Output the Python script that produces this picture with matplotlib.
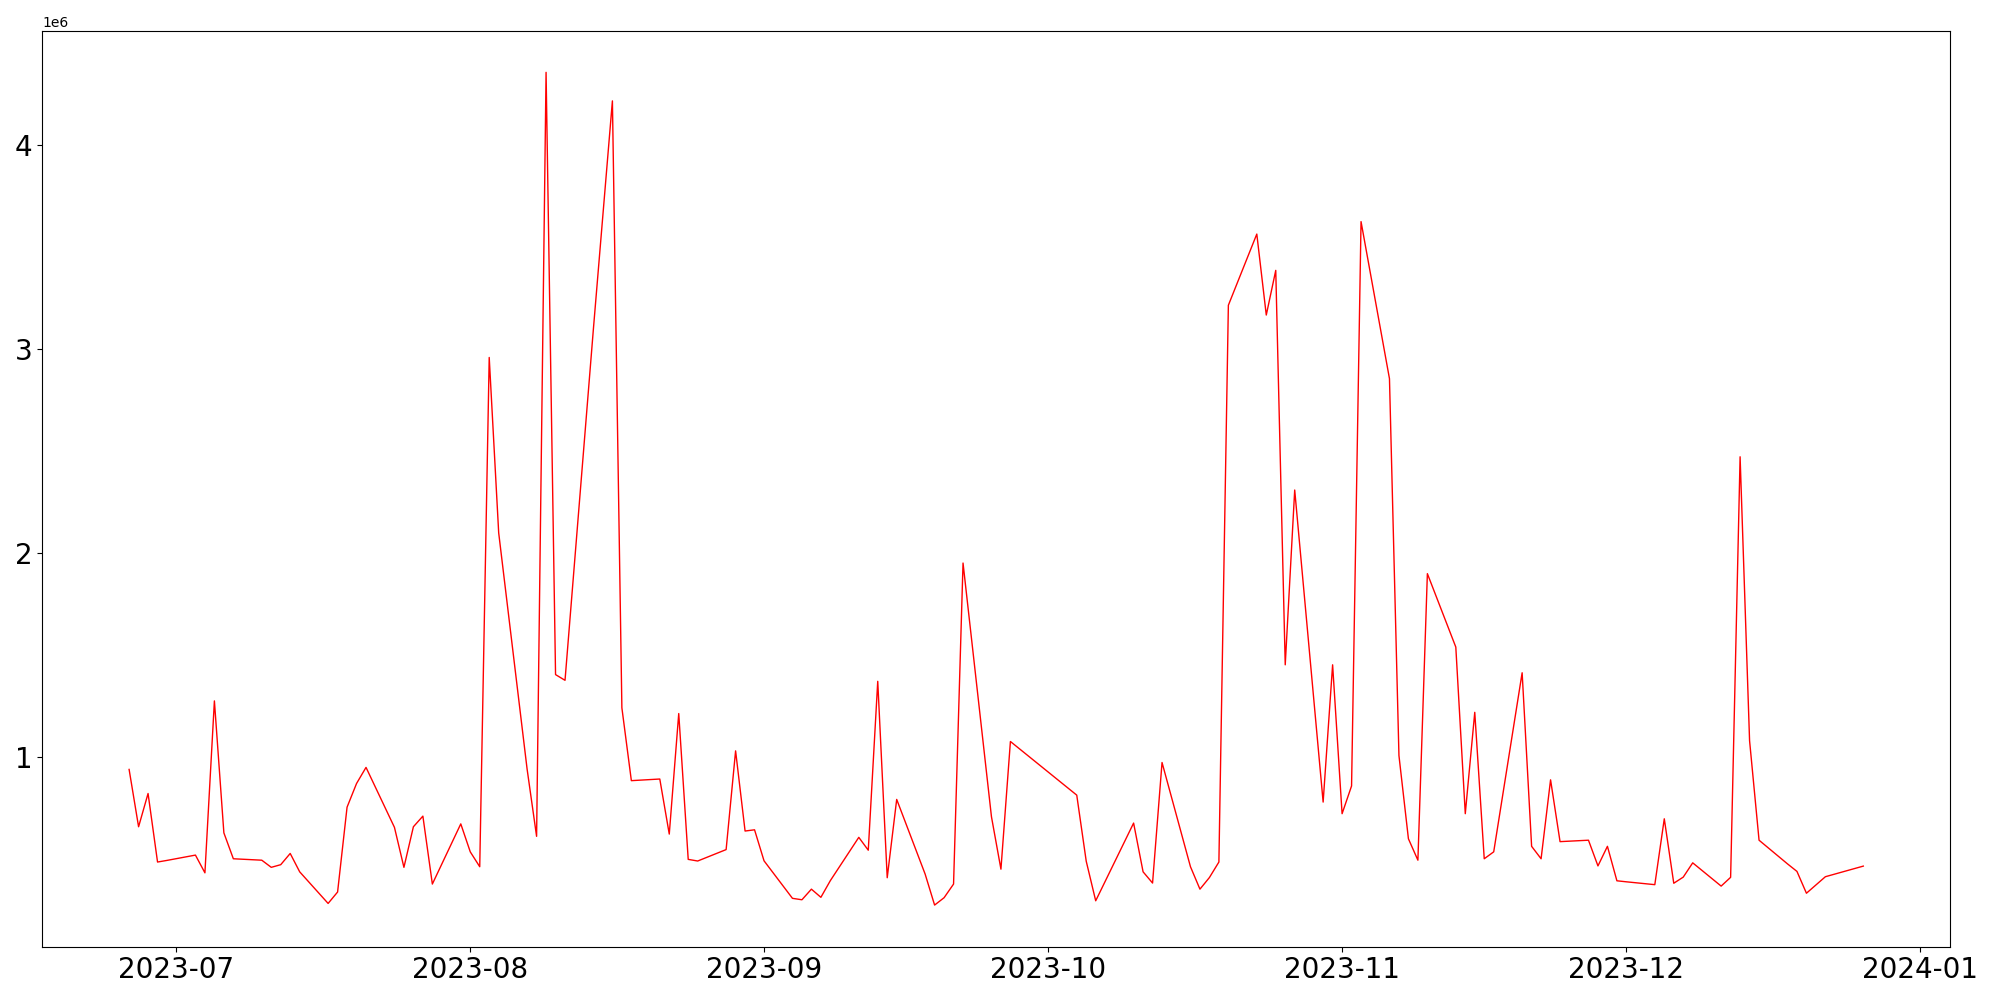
import numpy as np
import pandas as pd
import matplotlib
matplotlib.use("Agg")
import matplotlib.pyplot as plt
from matplotlib.ticker import MultipleLocator

# trading days (gaps = weekends / holidays)
dates = [
    "2023-06-26", "2023-06-27", "2023-06-28", "2023-06-29", "2023-06-30",
    "2023-07-03", "2023-07-04", "2023-07-05", "2023-07-06", "2023-07-07",
    "2023-07-10", "2023-07-11", "2023-07-12", "2023-07-13", "2023-07-14",
    "2023-07-17", "2023-07-18", "2023-07-19", "2023-07-20", "2023-07-21",
    "2023-07-24", "2023-07-25", "2023-07-26", "2023-07-27", "2023-07-28",
    "2023-07-31", "2023-08-01", "2023-08-02", "2023-08-03", "2023-08-04",
    "2023-08-07", "2023-08-08", "2023-08-09", "2023-08-10", "2023-08-11",
    "2023-08-14", "2023-08-16", "2023-08-17", "2023-08-18",
    "2023-08-21", "2023-08-22", "2023-08-23", "2023-08-24", "2023-08-25",
    "2023-08-28", "2023-08-29", "2023-08-30", "2023-08-31", "2023-09-01",
    "2023-09-04", "2023-09-05", "2023-09-06", "2023-09-07", "2023-09-08",
    "2023-09-11", "2023-09-12", "2023-09-13", "2023-09-14", "2023-09-15",
    "2023-09-18", "2023-09-19", "2023-09-20", "2023-09-21", "2023-09-22",
    "2023-09-25", "2023-09-26", "2023-09-27",
    "2023-10-04", "2023-10-05", "2023-10-06",
    "2023-10-10", "2023-10-11", "2023-10-12", "2023-10-13",
    "2023-10-16", "2023-10-17", "2023-10-18", "2023-10-19", "2023-10-20",
    "2023-10-23", "2023-10-24", "2023-10-25", "2023-10-26", "2023-10-27",
    "2023-10-30", "2023-10-31", "2023-11-01", "2023-11-02", "2023-11-03",
    "2023-11-06", "2023-11-07", "2023-11-08", "2023-11-09", "2023-11-10",
    "2023-11-13", "2023-11-14", "2023-11-15", "2023-11-16", "2023-11-17",
    "2023-11-20", "2023-11-21", "2023-11-22", "2023-11-23", "2023-11-24",
    "2023-11-27", "2023-11-28", "2023-11-29", "2023-11-30", "2023-12-01",
    "2023-12-04", "2023-12-05", "2023-12-06", "2023-12-07", "2023-12-08",
    "2023-12-11", "2023-12-12", "2023-12-13", "2023-12-14", "2023-12-15",
    "2023-12-18", "2023-12-19", "2023-12-20", "2023-12-22",
    "2023-12-26",
]

# values in millions
values_m = [
    0.937, 0.656, 0.819, 0.483, 0.491,
    0.517, 0.430, 1.273, 0.626, 0.499,
    0.492, 0.457, 0.470, 0.525, 0.435,
    0.280, 0.336, 0.752, 0.868, 0.947,
    0.653, 0.457, 0.656, 0.708, 0.375,
    0.670, 0.533, 0.460, 2.957, 2.097,
    0.938, 0.609, 4.355, 1.402, 1.374,
    3.100, 4.215, 1.239, 0.882,
    0.890, 0.620, 1.211, 0.496, 0.488,
    0.544, 1.028, 0.635, 0.641, 0.489,
    0.305, 0.298, 0.350, 0.310, 0.392,
    0.604, 0.541, 1.369, 0.406, 0.790,
    0.424, 0.272, 0.308, 0.375, 1.949,
    0.705, 0.448, 1.074,
    0.811, 0.487, 0.293,
    0.674, 0.435, 0.380, 0.971,
    0.460, 0.350, 0.407, 0.483, 3.213,
    3.562, 3.165, 3.384, 1.450, 2.307,
    0.777, 1.450, 0.720, 0.856, 3.623,
    2.853, 1.005, 0.597, 0.492, 1.897,
    1.537, 0.720, 1.217, 0.499, 0.533,
    1.411, 0.560, 0.499, 0.886, 0.583,
    0.590, 0.464, 0.560, 0.391, 0.386,
    0.372, 0.695, 0.379, 0.409, 0.479,
    0.365, 0.408, 2.470, 1.078, 0.590,
    0.474, 0.437, 0.330, 0.411,
    0.463,
]

x = pd.to_datetime(dates)
y = np.array(values_m) * 1e6

fig, ax = plt.subplots(figsize=(20, 10), dpi=100)
ax.plot(x, y, color="red", linewidth=1.0)
ax.yaxis.set_major_locator(MultipleLocator(1e6))
ax.tick_params(axis="both", labelsize=20)

fig.subplots_adjust(left=0.0212, right=0.975, top=0.9693, bottom=0.0533)
fig.savefig("out.png", dpi=100)
